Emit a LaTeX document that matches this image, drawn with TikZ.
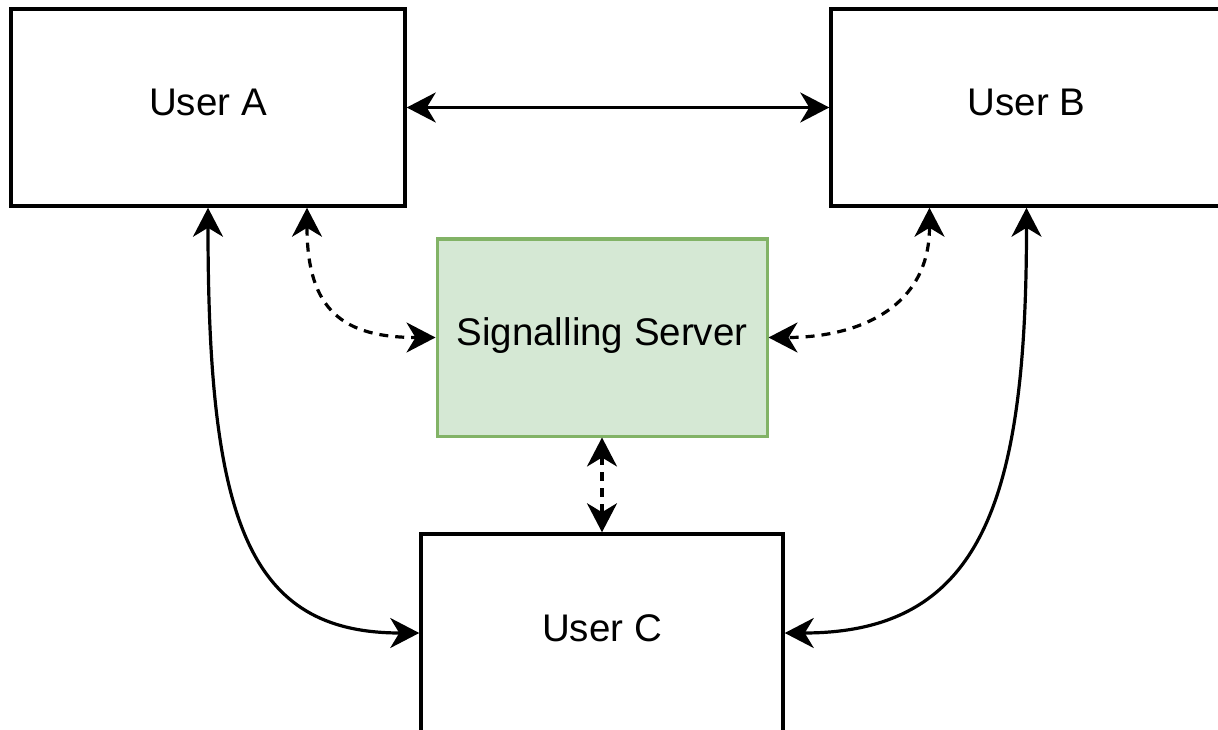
\documentclass[tikz,border=0pt]{standalone}
\usepackage{fontspec}
\setmainfont{Liberation Sans}
\usetikzlibrary{arrows.meta}
\definecolor{srvfill}{HTML}{D5E8D4}
\definecolor{srvline}{HTML}{82B366}
\begin{document}
\begin{tikzpicture}[x=1pt,y=-1pt,
  userbox/.style={draw=black,line width=3.5pt,fill=white,inner sep=0pt,
    text height=28pt,text depth=12pt,font=\fontsize{38.5}{46}\selectfont},
  srvbox/.style={userbox,draw=srvline,fill=srvfill,line width=3pt},
  conn/.style={line width=3.2pt,line cap=butt,
    arrows={Stealth[length=29pt,width=30pt,inset=9pt]-Stealth[length=29pt,width=30pt,inset=9pt]}},
  dashconn/.style={conn,dash pattern=on 9pt off 7pt}]
\useasboundingbox (0,0) rectangle (1218,730);
\clip (0,0) rectangle (1218,730);
\node[userbox,minimum width=394pt,minimum height=197pt] (A) at (208,107.5) {User A};
\node[userbox,minimum width=391pt,minimum height=197pt] (B) at (1026.5,107.5) {User B};
\node[srvbox,minimum width=330pt,minimum height=197pt] (S) at (602,337.5) {Signalling Server};
\node[userbox,minimum width=362pt,minimum height=198pt] (C) at (602,633) {User C};
\coordinate (Ad) at ([xshift=99pt]A.south);
\coordinate (Bd) at ([xshift=-97pt]B.south);
\draw[conn] (A.east) -- (B.west);
\draw[conn] (A.south) .. controls +(0,313) and +(-171,0) .. (C.west);
\draw[conn] (B.south) .. controls +(0,293) and +(197,0) .. (C.east);
\draw[dashconn] (Ad) .. controls +(0,103) and +(-92,0) .. (S.west);
\draw[dashconn] (Bd) .. controls +(0,103) and +(85,0) .. (S.east);
\draw[dashconn] (S.south) -- (C.north);
\end{tikzpicture}
\end{document}
